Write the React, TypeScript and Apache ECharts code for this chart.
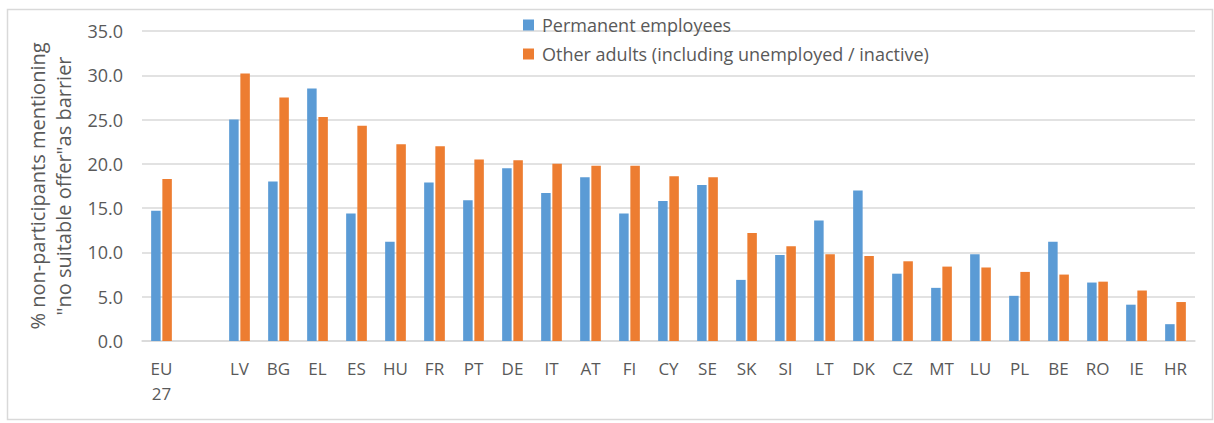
import React, { useEffect, useRef } from "react";
import * as echarts from "echarts";

const categories = ["EU 27", "", "LV", "BG", "EL", "ES", "HU", "FR", "PT", "DE", "IT", "AT", "FI", "CY", "SE", "SK", "SI", "LT", "DK", "CZ", "MT", "LU", "PL", "BE", "RO", "IE", "HR"];
const permanentEmployees = [14.7, null, 25.0, 18.0, 28.5, 14.4, 11.2, 17.9, 15.9, 19.5, 16.7, 18.5, 14.4, 15.8, 17.6, 6.9, 9.7, 13.6, 17.0, 7.6, 6.0, 9.8, 5.1, 11.2, 6.6, 4.1, 1.9];
const otherAdults = [18.3, null, 30.2, 27.5, 25.3, 24.3, 22.2, 22.0, 20.5, 20.4, 20.0, 19.8, 19.8, 18.6, 18.5, 12.2, 10.7, 9.8, 9.6, 9.0, 8.4, 8.3, 7.8, 7.5, 6.7, 5.7, 4.4];
const seriesNames = ["Permanent employees", "Other adults (including unemployed / inactive)"];
const yAxisTitle = "% non-participants mentioning\n\"no suitable offer\"as barrier";

const FONT = "'Open Sans', sans-serif";
const TEXT = "#595959";
const GRID = "#d9d9d9";

export default function App() {
  const ref = useRef<HTMLDivElement>(null);
  useEffect(() => {
    document.body.style.margin = "0";
    const chart = echarts.init(ref.current!, null, { renderer: "svg" });
    chart.setOption({
      animation: false,
      backgroundColor: "#ffffff",
      textStyle: { fontFamily: FONT },
      graphic: [
        {
          type: "rect",
          shape: { x: 7.5, y: 9.5, width: 1205, height: 410 },
          style: { fill: "none", stroke: GRID, lineWidth: 1.5 },
          silent: true,
          z: -10,
        },
      ],
      legend: {
        orient: "vertical",
        left: 518,
        top: 11,
        icon: "rect",
        itemWidth: 11,
        itemHeight: 11,
        itemGap: 11,
        textStyle: { fontFamily: FONT, fontSize: 18, color: TEXT, lineHeight: 18, padding: [0, 0, 0, 3] },
        data: seriesNames,
      },
      grid: { left: 142, right: 19, top: 31, bottom: 82, containLabel: false },
      xAxis: {
        type: "category",
        data: categories,
        axisTick: { show: false },
        axisLine: { lineStyle: { color: GRID, width: 1.5 } },
        axisLabel: {
          interval: 0,
          margin: 15,
          fontFamily: FONT,
          fontSize: 17,
          lineHeight: 25,
          color: TEXT,
          formatter: (v: string) => v.replace(" ", "\n"),
        },
      },
      yAxis: {
        type: "value",
        min: 0,
        max: 35,
        interval: 5,
        axisLine: { show: false },
        axisTick: { show: false },
        splitLine: { lineStyle: { color: GRID, width: 1.5 } },
        axisLabel: {
          margin: 19,
          fontFamily: FONT,
          fontSize: 18,
          color: TEXT,
          formatter: (v: number) => v.toFixed(1),
        },
        name: yAxisTitle,
        nameLocation: "middle",
        nameRotate: 90,
        nameGap: 66,
        nameTextStyle: { fontFamily: FONT, fontSize: 20, lineHeight: 26, color: TEXT },
      },
      series: [
        {
          name: seriesNames[0],
          type: "bar",
          data: permanentEmployees,
          barWidth: 9.5,
          barGap: "18%",
          itemStyle: { color: "#5B9BD5" },
        },
        {
          name: seriesNames[1],
          type: "bar",
          data: otherAdults,
          barWidth: 9.5,
          itemStyle: { color: "#ED7D31" },
        },
      ],
    });
    return () => chart.dispose();
  }, []);
  return <div ref={ref} style={{ width: 1214, height: 423 }} />;
}
